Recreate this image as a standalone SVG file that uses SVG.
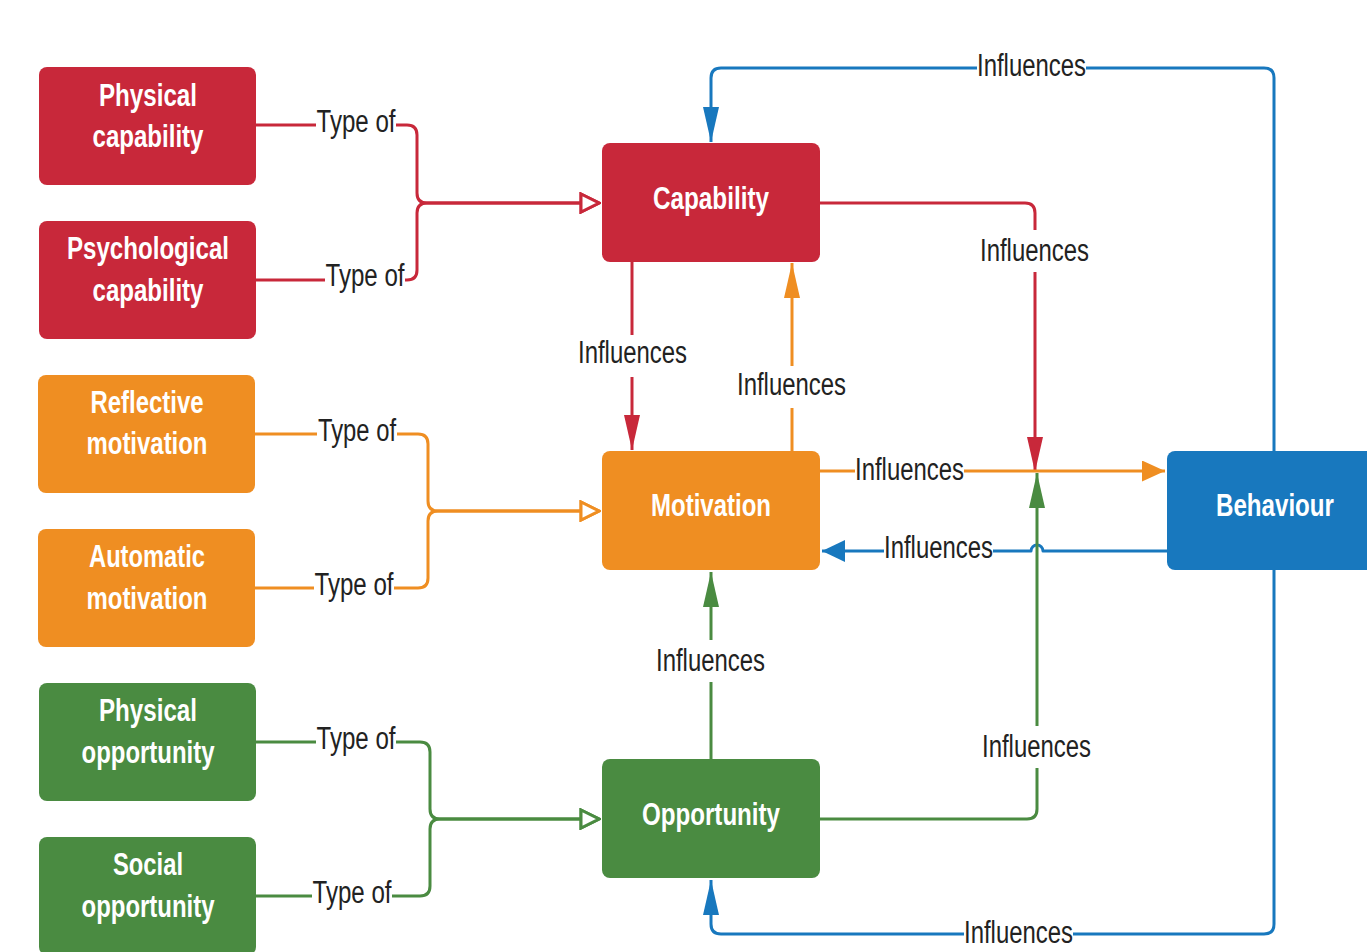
<svg xmlns="http://www.w3.org/2000/svg" width="1367" height="952" viewBox="0 0 1367 952">
<style>
.box{stroke:none}
.red{fill:#C8283A}.orange{fill:#EF8E22}.green{fill:#4A8B41}.blue{fill:#1878BE}
.bt{font-family:"Liberation Sans",Arial,sans-serif;font-size:31px;font-weight:bold;fill:#ffffff;text-anchor:middle}
.lt{font-family:"Liberation Sans",Arial,sans-serif;font-size:31px;fill:#222222;text-anchor:middle}
.c{fill:none;stroke-width:3;stroke-linejoin:round}
.cr{stroke:#C8283A}.co{stroke:#EF8E22}.cg{stroke:#4A8B41}.cb{stroke:#1878BE}
.bg{fill:#ffffff}
</style>
<defs>
<marker id="hr" markerUnits="userSpaceOnUse" viewBox="-2 -2 22 22" refX="0" refY="9" markerWidth="22" markerHeight="22" orient="auto"><path d="M0,0 L18,9 L0,18 z" fill="#ffffff" stroke="#C8283A" stroke-width="3"/></marker>
<marker id="ho" markerUnits="userSpaceOnUse" viewBox="-2 -2 22 22" refX="0" refY="9" markerWidth="22" markerHeight="22" orient="auto"><path d="M0,0 L18,9 L0,18 z" fill="#ffffff" stroke="#EF8E22" stroke-width="3"/></marker>
<marker id="hg" markerUnits="userSpaceOnUse" viewBox="-2 -2 22 22" refX="0" refY="9" markerWidth="22" markerHeight="22" orient="auto"><path d="M0,0 L18,9 L0,18 z" fill="#ffffff" stroke="#4A8B41" stroke-width="3"/></marker>
<marker id="vr" markerUnits="userSpaceOnUse" viewBox="0 0 35 16" refX="35" refY="8" markerWidth="35" markerHeight="16" orient="auto"><path d="M0,0 L35,8 L0,16 z" fill="#C8283A"/></marker>
<marker id="vo" markerUnits="userSpaceOnUse" viewBox="0 0 35 16" refX="35" refY="8" markerWidth="35" markerHeight="16" orient="auto"><path d="M0,0 L35,8 L0,16 z" fill="#EF8E22"/></marker>
<marker id="vg" markerUnits="userSpaceOnUse" viewBox="0 0 35 16" refX="35" refY="8" markerWidth="35" markerHeight="16" orient="auto"><path d="M0,0 L35,8 L0,16 z" fill="#4A8B41"/></marker>
<marker id="vb" markerUnits="userSpaceOnUse" viewBox="0 0 35 16" refX="35" refY="8" markerWidth="35" markerHeight="16" orient="auto"><path d="M0,0 L35,8 L0,16 z" fill="#1878BE"/></marker>
<marker id="fo" markerUnits="userSpaceOnUse" viewBox="0 0 23 21" refX="23" refY="10.5" markerWidth="23" markerHeight="21" orient="auto"><path d="M0,0 L23,10.5 L0,21 z" fill="#EF8E22"/></marker>
<marker id="fb" markerUnits="userSpaceOnUse" viewBox="0 0 23 22" refX="23" refY="11" markerWidth="23" markerHeight="22" orient="auto"><path d="M0,0 L23,11 L0,22 z" fill="#1878BE"/></marker>
</defs>
<rect width="1367" height="952" fill="#ffffff"/>

<g id="connectors">
<path class="c cr" d="M256,125 H407 Q417,125 417,135 V193 Q417,203 427,203 H581" marker-end="url(#hr)"/>
<path class="c cr" d="M256,280 H407 Q417,280 417,270 V213 Q417,203 427,203 H581" marker-end="url(#hr)"/>
<path class="c co" d="M255,434 H418 Q428,434 428,444 V501 Q428,511 438,511 H581" marker-end="url(#ho)"/>
<path class="c co" d="M255,588 H418 Q428,588 428,578 V521 Q428,511 438,511 H581" marker-end="url(#ho)"/>
<path class="c cg" d="M256,742 H420 Q430,742 430,752 V809 Q430,819 440,819 H581" marker-end="url(#hg)"/>
<path class="c cg" d="M256,896 H420 Q430,896 430,886 V829 Q430,819 440,819 H581" marker-end="url(#hg)"/>
<path class="c cr" d="M632,262 V450" marker-end="url(#vr)"/>
<path class="c co" d="M792,451 V263" marker-end="url(#vo)"/>
<path class="c cr" d="M820,203 H1025 Q1035,203 1035,213 V472" marker-end="url(#vr)"/>
<path class="c co" d="M820,471 H1165" marker-end="url(#fo)"/>
<path class="c cb" d="M1167,551 H1043 A6,6 0 0 0 1031,551 H822" marker-end="url(#fb)"/>
<path class="c cg" d="M711,759 V572" marker-end="url(#vg)"/>
<path class="c cg" d="M820,819 H1027 Q1037,819 1037,809 V473" marker-end="url(#vg)"/>
<path class="c cb" d="M1274,451 V78 Q1274,68 1264,68 H721 Q711,68 711,78 V142" marker-end="url(#vb)"/>
<path class="c cb" d="M1274,570 V924 Q1274,934 1264,934 H721 Q711,934 711,924 V880" marker-end="url(#vb)"/>

<rect class="bg" x="316" y="106" width="80" height="32"/>
<text class="lt" x="356" y="132" textLength="79" lengthAdjust="spacingAndGlyphs">Type of</text>
<rect class="bg" x="325" y="261" width="80" height="32"/>
<text class="lt" x="365" y="286" textLength="79" lengthAdjust="spacingAndGlyphs">Type of</text>
<rect class="bg" x="317" y="415" width="80" height="32"/>
<text class="lt" x="357" y="441" textLength="78" lengthAdjust="spacingAndGlyphs">Type of</text>
<rect class="bg" x="314" y="569" width="80" height="32"/>
<text class="lt" x="354" y="595" textLength="79" lengthAdjust="spacingAndGlyphs">Type of</text>
<rect class="bg" x="316" y="723" width="80" height="32"/>
<text class="lt" x="356" y="749" textLength="79" lengthAdjust="spacingAndGlyphs">Type of</text>
<rect class="bg" x="312" y="877" width="80" height="32"/>
<text class="lt" x="352" y="903" textLength="79" lengthAdjust="spacingAndGlyphs">Type of</text>

<rect class="bg" x="576" y="335" width="113" height="42"/>
<text class="lt" x="632.5" y="363" textLength="109" lengthAdjust="spacingAndGlyphs">Influences</text>
<rect class="bg" x="735" y="366" width="113" height="42"/>
<text class="lt" x="791.5" y="395" textLength="109" lengthAdjust="spacingAndGlyphs">Influences</text>
<rect class="bg" x="978" y="230" width="113" height="42"/>
<text class="lt" x="1034.5" y="261" textLength="109" lengthAdjust="spacingAndGlyphs">Influences</text>
<rect class="bg" x="855" y="454" width="109" height="32"/>
<text class="lt" x="909.5" y="480" textLength="109" lengthAdjust="spacingAndGlyphs">Influences</text>
<rect class="bg" x="884" y="533" width="109" height="32"/>
<text class="lt" x="938.5" y="558" textLength="109" lengthAdjust="spacingAndGlyphs">Influences</text>
<rect class="bg" x="654" y="640" width="113" height="42"/>
<text class="lt" x="710.5" y="671" textLength="109" lengthAdjust="spacingAndGlyphs">Influences</text>
<rect class="bg" x="980" y="726" width="113" height="42"/>
<text class="lt" x="1036.5" y="757" textLength="109" lengthAdjust="spacingAndGlyphs">Influences</text>
<rect class="bg" x="977" y="50" width="109" height="32"/>
<text class="lt" x="1031.5" y="76" textLength="109" lengthAdjust="spacingAndGlyphs">Influences</text>
<rect class="bg" x="964" y="918" width="109" height="32"/>
<text class="lt" x="1018.5" y="943" textLength="109" lengthAdjust="spacingAndGlyphs">Influences</text>
</g>

<g id="physical-capability"><rect class="box red" x="39" y="67" width="217" height="118" rx="8"/>
<text class="bt" x="148" y="106" textLength="98" lengthAdjust="spacingAndGlyphs">Physical</text>
<text class="bt" x="148" y="147" textLength="111" lengthAdjust="spacingAndGlyphs">capability</text></g>
<g id="psychological-capability"><rect class="box red" x="39" y="221" width="217" height="118" rx="8"/>
<text class="bt" x="148" y="259" textLength="162" lengthAdjust="spacingAndGlyphs">Psychological</text>
<text class="bt" x="148" y="301" textLength="111" lengthAdjust="spacingAndGlyphs">capability</text></g>
<g id="reflective-motivation"><rect class="box orange" x="38" y="375" width="217" height="118" rx="8"/>
<text class="bt" x="147" y="413" textLength="113" lengthAdjust="spacingAndGlyphs">Reflective</text>
<text class="bt" x="147" y="454" textLength="121" lengthAdjust="spacingAndGlyphs">motivation</text></g>
<g id="automatic-motivation"><rect class="box orange" x="38" y="529" width="217" height="118" rx="8"/>
<text class="bt" x="147" y="567" textLength="116" lengthAdjust="spacingAndGlyphs">Automatic</text>
<text class="bt" x="147" y="609" textLength="121" lengthAdjust="spacingAndGlyphs">motivation</text></g>
<g id="physical-opportunity"><rect class="box green" x="39" y="683" width="217" height="118" rx="8"/>
<text class="bt" x="148" y="721" textLength="98" lengthAdjust="spacingAndGlyphs">Physical</text>
<text class="bt" x="148" y="763" textLength="133" lengthAdjust="spacingAndGlyphs">opportunity</text></g>
<g id="social-opportunity"><rect class="box green" x="39" y="837" width="217" height="118" rx="8"/>
<text class="bt" x="148" y="875" textLength="70" lengthAdjust="spacingAndGlyphs">Social</text>
<text class="bt" x="148" y="917" textLength="133" lengthAdjust="spacingAndGlyphs">opportunity</text></g>

<g id="capability"><rect class="box red" x="602" y="143" width="218" height="119" rx="8"/>
<text class="bt" x="711" y="209" textLength="116" lengthAdjust="spacingAndGlyphs">Capability</text></g>
<g id="motivation"><rect class="box orange" x="602" y="451" width="218" height="119" rx="8"/>
<text class="bt" x="711" y="516" textLength="120" lengthAdjust="spacingAndGlyphs">Motivation</text></g>
<g id="opportunity"><rect class="box green" x="602" y="759" width="218" height="119" rx="8"/>
<text class="bt" x="711" y="825" textLength="138" lengthAdjust="spacingAndGlyphs">Opportunity</text></g>
<g id="behaviour"><rect class="box blue" x="1167" y="451" width="218" height="119" rx="8"/>
<text class="bt" x="1275" y="516" textLength="118" lengthAdjust="spacingAndGlyphs">Behaviour</text></g>
</svg>
